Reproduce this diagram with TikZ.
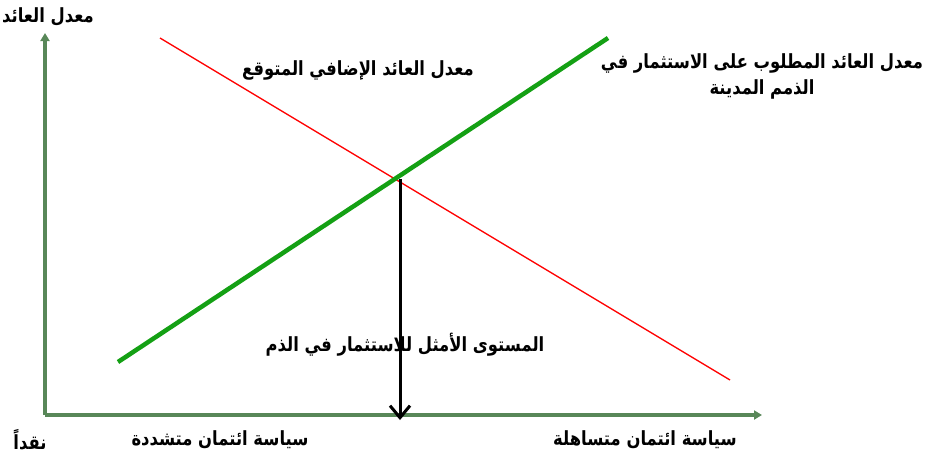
\documentclass[tikz,border=0pt]{standalone}
\usepackage{fontspec}
\usepackage{graphicx}
\newfontfamily\arabicfont[Script=Arabic]{DejaVu Sans}
\TeXXeTstate=1
\usetikzlibrary{arrows.meta}
\definecolor{axisgreen}{RGB}{88,135,88}
\definecolor{linegreen}{RGB}{20,160,20}
\newcommand\artxt[1]{\scalebox{0.84}[1]{\beginR #1\endR}}
\tikzset{
  lbl/.style={font=\arabicfont\bfseries\fontsize{19.5}{22}\selectfont, inner sep=0pt, align=center},
  axisline/.style={draw=axisgreen, line width=3.5pt, -{Triangle[length=8pt,width=9pt]}},
}
\begin{document}
\begin{tikzpicture}[x=1pt,y=-1pt]
\useasboundingbox (0,0) rectangle (928,461);
\coordinate (O) at (45,415);
\coordinate (ytop) at (45,33);
\coordinate (xend) at (762,415);
\draw[axisline] (O) -- (ytop);
\draw[axisline] (O) -- (xend);
\coordinate (r1) at (160,38);
\coordinate (r2) at (730,380);
\draw[red, line width=1.3pt] (r1) -- (r2);
\coordinate (g1) at (118,362);
\coordinate (g2) at (608,38);
\draw[linegreen, line width=4.5pt] (g1) -- (g2);
\coordinate (X) at (400,179);
\coordinate (Xb) at (400,420);
\draw[black, line width=3pt, -{Straight Barb[length=12pt,width=20pt]}] (X) -- (Xb);
\node[lbl] (ly) at (48,17) {\artxt{معدل العائد}};
\node[lbl] (lr) at (358,70) {\artxt{معدل العائد الإضافي المتوقع}};
\node[lbl] (lg) at (762,76) {\artxt{معدل العائد المطلوب على الاستثمار في}\\[4pt]\artxt{الذمم المدينة}};
\node[lbl] (lo) at (405,345) {\artxt{المستوى الأمثل للاستثمار في الذم}};
\node[lbl] (lc) at (30,440) {\artxt{نقداً}};
\node[lbl] (lt) at (220,440) {\artxt{سياسة ائتمان متشددة}};
\node[lbl] (ll) at (645,440) {\artxt{سياسة ائتمان متساهلة}};
\end{tikzpicture}
\end{document}
